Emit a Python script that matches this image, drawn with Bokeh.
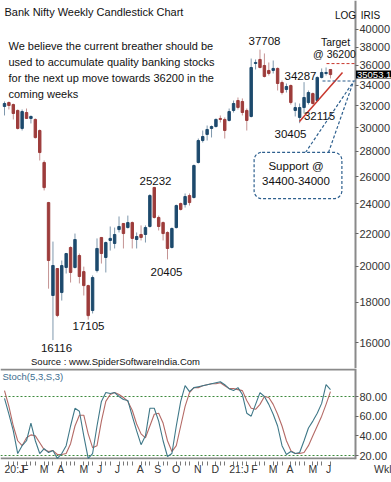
import math
from bokeh.plotting import figure
from bokeh.layouts import column
from bokeh.models import (Range1d, FixedTicker, PrintfTickFormatter, Label,
                          ColumnDataSource)
from bokeh.embed import file_html
from bokeh.resources import INLINE

# ---------------- data (weekly, Jan 2020 - Jun 2021) ----------------
weeks = list(range(1, 76))
opens = [31930, 32300, 32110, 31560, 29940, 31370, 30830, 30740, 29760, 27100,
         24100, 18360, 19870, 18520, 19930, 21130, 19930, 20640, 19690, 18900,
         17570, 19750, 21760, 20520, 21570, 21380, 22270, 22670, 22400, 22730,
         21630, 21950, 21950, 22470, 25190, 23070, 22730, 22080, 21130, 22400,
         24030, 23960, 24600, 24460, 27100, 28900, 29420, 29940, 30110, 30830,
         30740, 30650, 31560, 32490, 32400, 31560, 31010, 36210, 36640, 36000,
         35480, 35480, 35690, 34250, 33560, 33950, 31560, 30920, 31830, 32300,
         33160, 32490, 34760, 35170, 35580]
highs = [32400, 32400, 32200, 31650, 31650, 31740, 31100, 30830, 29850, 27260,
         24150, 21500, 19900, 20340, 20800, 21200, 22010, 20760, 19980, 18950,
         19470, 21700, 21760, 21500, 22470, 22400, 23140, 22700, 23200, 22800,
         22080, 22540, 22540, 24700, 25232, 23200, 22800, 22150, 22400, 23960,
         24100, 24750, 24750, 26940, 29070, 29760, 30200, 30200, 30830, 31100,
         30920, 31740, 32490, 32780, 32690, 31740, 36740, 36640, 37708, 37290,
         36320, 36530, 35790, 34450, 34150, 34050, 32300, 32210, 34287, 33460,
         33260, 34860, 35690, 35790, 35580]
lows = [31100, 31650, 30740, 29850, 29760, 30800, 30380, 29070, 27260, 24970,
        18730, 16116, 17230, 18090, 19580, 19070, 19870, 19020, 18360, 17105,
        17420, 19640, 20160, 19640, 20940, 21070, 22080, 21070, 22340, 21070,
        21070, 21570, 21440, 22400, 23000, 22210, 21570, 20405, 21070, 22340,
        23550, 23750, 23890, 24390, 27020, 28730, 28900, 29160, 30020, 30470,
        29070, 30560, 31370, 31650, 31100, 29760, 30920, 35580, 35700, 34760,
        34960, 35170, 33460, 33070, 33260, 32110, 31010, 30405, 31280, 32110,
        32115, 32400, 34660, 34960, 34660]
closes = [32210, 32020, 31280, 29940, 31460, 30830, 31010, 29150, 27900, 25180,
          20340, 20045, 17320, 20040, 20760, 19640, 21630, 19410, 18900, 17310,
          19350, 21070, 20760, 21440, 21700, 21950, 22470, 22010, 22730, 21700,
          21820, 21760, 22400, 24600, 23070, 22470, 22010, 21070, 22340, 23890,
          23620, 24530, 24100, 26860, 28900, 29240, 29850, 30110, 30740, 30740,
          29760, 31460, 32210, 31840, 31370, 30650, 35790, 36320, 35790, 34860,
          35170, 35690, 34150, 33260, 33850, 32300, 31830, 31830, 32780, 33260,
          32210, 34760, 35270, 35270, 35053.1]
stoch_k = [78, 62, 45, 22, 30, 35, 53, 35, 22, 27, 23, 25, 17, 22, 30, 50, 68, 65,
           40, 17, 22, 50, 75, 84, 83, 84, 80, 77, 76, 60, 45, 31, 40, 68, 68, 55,
           35, 19, 22, 50, 75, 91, 85, 89, 90, 91, 92, 93, 94, 95, 92, 88, 86, 89,
           82, 63, 60, 72, 84, 80, 72, 62, 50, 30, 21, 24, 22, 23, 35, 48, 55, 63,
           73, 92, 87]
stoch_d = [86, 70, 50, 35, 30, 38, 41, 40, 33, 26, 24, 25, 21, 21, 22, 32, 50, 61,
           61, 42, 28, 30, 55, 75, 82, 84, 82, 79, 75, 66, 52, 42, 38, 50, 62, 63,
           53, 35, 24, 30, 50, 70, 84, 89, 89, 91, 92, 93, 93, 94, 91, 88, 88, 87,
           86, 76, 68, 67, 72, 80, 79, 72, 62, 50, 35, 25, 22, 22, 23, 30, 40, 50,
           60, 72, 85]
price_ticks = list(range(16000, 40001, 2000))
stoch_ticks = [20, 40, 60, 80]
month_weeks = [1, 5, 9, 13, 18, 22, 26, 31, 35, 39, 44, 48, 52, 57, 61, 65, 70, 74]
month_labels = ["20:J", "F", "M", "A", "M", "J", "J", "A", "S", "O", "N", "D",
                "21:J", "F", "M", "A", "M", "J"]
period_label = "Wkl"
last_price = 35053.1
target = 36200
support = 34400

# ---------------- layout helpers (reference pixel -> data) ----------------
W = 391
PX_PER_WEEK = 4.405
def xd(px):
    return 1 + (px - 4) / PX_PER_WEEK

def yd(py):
    return 16000 * math.exp((342 - py) / 341.6)

def sd(py):
    return 20 + (455 - py) / 0.9833

FONT = "Liberation Sans"
XFS = 10.5  # x tick label font size
EM = {"0": .556, "1": .556, "2": .556, ":": .278, "J": .5, "F": .611, "M": .833,
      "A": .667, "S": .667, "O": .778, "N": .722, "D": .722, "W": .944, "k": .5,
      "l": .222}

def left_anchor(x, text):
    # bokeh centres axis labels: shift so the label starts at x
    return x + 0.5 * XFS * sum(EM.get(ch, .55) for ch in text) / PX_PER_WEEK

BLUE, RED = "#1d4a6d", "#9d3c3b"
BLUE_W, RED_W = "#7f98ad", "#c49393"
NAVY = "#2d5f8e"
GRAY = "#8a8a8a"

up = [c >= o for o, c in zip(opens, closes)]
src = ColumnDataSource(dict(
    x=weeks, h=highs, l=lows,
    top=[max(o, c) for o, c in zip(opens, closes)],
    bottom=[min(o, c) for o, c in zip(opens, closes)],
    color=[BLUE if u else RED for u in up],
    wick=[BLUE_W if u else RED_W for u in up],
))

def style_right_axis(a, ticks, fmt):
    # the axis sits at the canvas edge; ticks/labels are pulled back to x=355
    a.ticker = FixedTicker(ticks=ticks, minor_ticks=ticks)
    a.formatter = PrintfTickFormatter(format=fmt)
    a.major_label_text_font = FONT
    a.major_label_text_font_size = "11px"
    a.major_label_text_color = "#333333"
    a.axis_line_color = None
    a.major_tick_in = 0
    a.major_tick_out = 0
    a.major_tick_line_color = None
    a.minor_tick_in = W - 355
    a.minor_tick_out = -(W - 358)
    a.minor_tick_line_color = "#666666"
    a.major_label_standoff = -(W - 359)

xr = Range1d(xd(0), xd(W))
p1 = figure(frame_width=W, frame_height=368, x_range=xr,
            y_range=Range1d(yd(368), yd(0)), y_axis_type="log",
            y_axis_location="right", output_backend="svg", toolbar_location=None,
            min_border_left=0, min_border_right=0, min_border_top=0,
            min_border_bottom=0)
p1.xaxis.visible = False
p1.grid.visible = False
p1.outline_line_color = None
style_right_axis(p1.yaxis[0], price_ticks, "%d")
p1.segment(x0=[xd(355)], y0=[yd(368)], x1=[xd(355)], y1=[yd(0)],
           line_color=GRAY, line_width=2)

p1.segment(x0="x", y0="h", x1="x", y1="l", color="wick", line_width=1, source=src)
p1.vbar(x="x", width=0.55, top="top", bottom="bottom", fill_color="color",
        line_color="color", line_width=1, source=src)

# trend / support / target lines
p1.segment(x0=[xd(299)], y0=[yd(121)], x1=[xd(342)], y1=[yd(72)],
           line_color="#c8372d", line_width=1.5)
p1.segment(x0=[xd(326)], y0=[target], x1=[xd(354)], y1=[target],
           line_color="#c8372d", line_width=1, line_dash="3 2")
p1.segment(x0=[xd(322)], y0=[support], x1=[xd(355)], y1=[support],
           line_color=NAVY, line_width=1.2, line_dash="3 2")
p1.segment(x0=[xd(305), xd(328)], y0=[yd(152), yd(152)],
           x1=[xd(353), xd(353)], y1=[yd(81), yd(81)],
           line_color=NAVY, line_width=1.2, line_dash="3 2")

def lab(fig, x, y, text, size="11.5px", align="center", color="#111111", **kw):
    fig.add_layout(Label(x=x, y=y, text=text, text_font=FONT,
                         text_font_size=size, text_align=align,
                         text_baseline="middle", text_color=color, **kw))

lab(p1, xd(4), yd(11), "Bank Nifty Weekly Candlestick Chart", size="11px", align="left")
para = ["We believe the current breather should be",
        "used to accumulate quality banking stocks",
        "for the next up move towards 36200 in the",
        "coming weeks"]
for i, line in enumerate(para):
    lab(p1, xd(8), yd(45 + 16 * i), line, size="11px", align="left")

lab(p1, xd(264), yd(40), "37708")
lab(p1, xd(155), yd(180), "25232")
lab(p1, xd(166), yd(271), "20405")
lab(p1, xd(88), yd(325), "17105")
lab(p1, xd(56), yd(347), "16116")
lab(p1, xd(300), yd(75), "34287")
lab(p1, xd(290), yd(133), "30405")
lab(p1, xd(319), yd(115), "32115")
lab(p1, xd(335), yd(41), "Target", size="10.5px")
lab(p1, xd(334), yd(53), "@ 36200", size="10.5px")
lab(p1, xd(115), yd(361), "Source : www.SpiderSoftwareIndia.Com", size="9.5px")
lab(p1, xd(345), yd(15), "LOG", size="10px")
lab(p1, xd(370), yd(15), "IRIS", size="10px")
lab(p1, xd(297.5), yd(175), "Support @\n34400-34000", size="11.5px",
    background_fill_color="white", border_line_color=NAVY, border_line_width=1.2,
    border_line_dash="3 2", border_radius=8, padding=(8, 12, 8, 12))
lab(p1, xd(355.5), last_price, "35053.1", size="9.5px", align="left",
    color="white", background_fill_color="black", padding=1)

# ---------------- stochastic panel ----------------
p2 = figure(frame_width=W, frame_height=91, x_range=xr,
            y_range=Range1d(sd(459), sd(368)), y_axis_location="right",
            output_backend="svg", toolbar_location=None,
            min_border_left=0, min_border_right=0, min_border_top=0,
            min_border_bottom=23)
p2.grid.visible = False
p2.outline_line_color = None
p2.segment(x0=[xd(0), xd(0)], y0=[80, 20], x1=[xd(355), xd(355)], y1=[80, 20],
           line_color="#3c8a3c", line_width=1, line_dash="2 2")
p2.segment(x0=[xd(0), xd(0), xd(355)], y0=[sd(369), sd(458), sd(459)],
           x1=[xd(355), xd(355), xd(355)], y1=[sd(369), sd(458), sd(368)],
           line_color=GRAY, line_width=2)
p2.line(weeks, stoch_d, line_color="#b46a66", line_width=1.1)
p2.line(weeks, stoch_k, line_color="#3f7888", line_width=1.1)

style_right_axis(p2.yaxis[0], stoch_ticks, "%.2f")

label_pos = [left_anchor(w, t) for w, t in zip(month_weeks, month_labels)]
wkl_pos = left_anchor(xd(375), period_label)
axx = p2.xaxis[0]
axx.ticker = FixedTicker(ticks=label_pos + [wkl_pos],
                         minor_ticks=[w for w in weeks if w not in month_weeks])
ov = {p: t for p, t in zip(label_pos, month_labels)}
ov[wkl_pos] = period_label
axx.major_label_overrides = ov
axx.major_label_text_font = FONT
axx.major_label_text_font_size = f"{XFS}px"
axx.major_label_text_color = "#333333"
axx.major_label_standoff = -3
axx.major_tick_in = 0
axx.major_tick_out = 0
axx.major_tick_line_color = None
axx.minor_tick_out = 6
axx.minor_tick_in = -2
axx.minor_tick_line_color = "#777777"
axx.axis_line_color = None

lab(p2, xd(2), sd(376), "Stoch(5,3,S,3)", size="9.5px", align="left",
    color="#3d6d8f")

layout = column(p1, p2, spacing=0)
open("out.html", "w").write(file_html(layout, INLINE))
